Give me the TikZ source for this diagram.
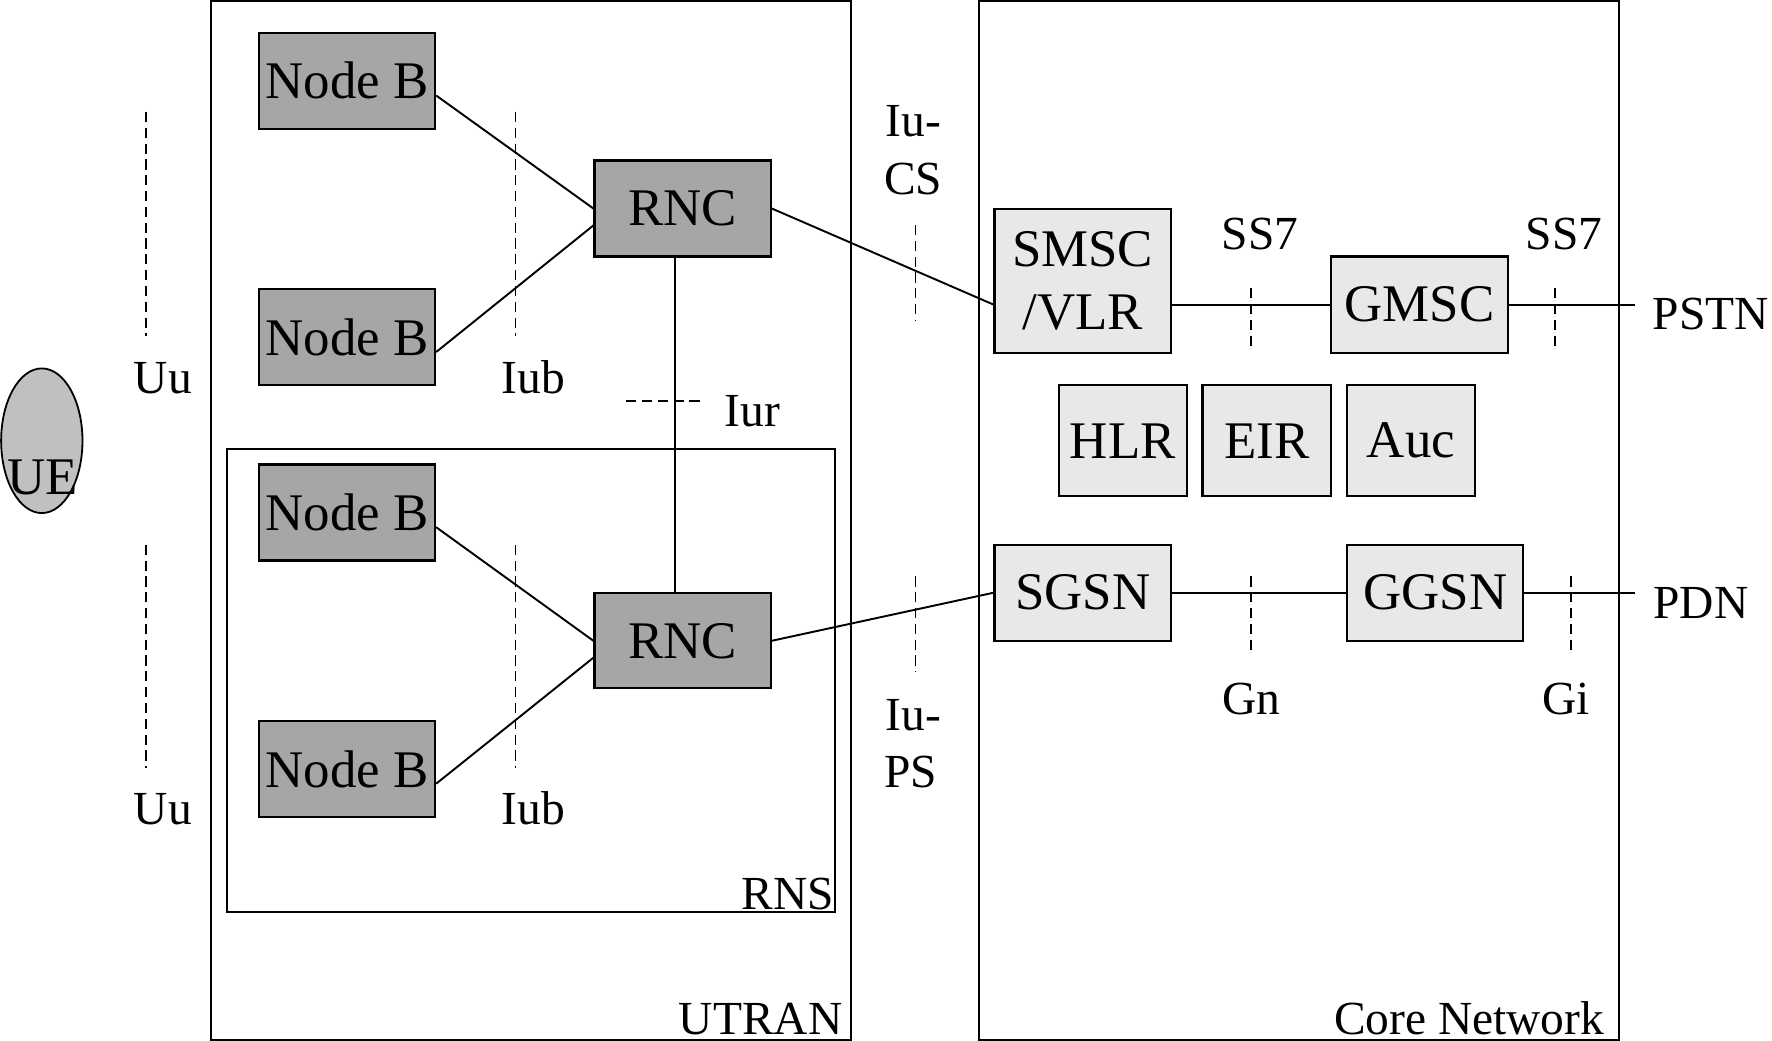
\documentclass[tikz,border=0pt]{standalone}
\usepackage{fontspec}
\setmainfont{Liberation Serif}
\usetikzlibrary{shapes.geometric}
\definecolor{darkbox}{HTML}{A6A6A6}
\definecolor{lightbox}{HTML}{E8E8E8}
\definecolor{uefill}{HTML}{C0C0C0}
\newcommand{\boxfont}{\fontsize{46.8}{56}\selectfont}
\newcommand{\lblfont}{\fontsize{42}{51}\selectfont}
\tikzset{
  nodebox/.style={draw, line width=1.9pt, inner sep=0pt, minimum width=156pt, minimum height=85pt, font=\boxfont, align=center},
  darkbox/.style={nodebox, fill=darkbox},
  lightbox/.style={nodebox, fill=lightbox},
  lbl/.style={inner sep=0pt, anchor=base, font=\lblfont, align=left},
  iface/.style={line width=1.3pt, dash pattern=on 9pt off 5pt},
  link/.style={line width=1.7pt},
  frame/.style={draw, line width=1.8pt}
}
\begin{document}
\begin{tikzpicture}[x=1pt,y=-1pt]
\useasboundingbox (0,0) rectangle (1568,921);
% frames
\draw[frame] (187,1) rectangle (753,920);
\draw[frame] (866,1) rectangle (1433,920);
\draw[frame] (201,397) rectangle (739,807);
% UE
\node[ellipse, draw, line width=1.6pt, fill=uefill, minimum width=72pt, minimum height=128pt, inner sep=0pt] (ue) at (37,390) {};
\node[lbl, font=\boxfont] (uetext) at (38,438) {UE};
% Node Bs and RNCs
\node[darkbox] (nb1) at (307,71.5) {Node B};
\node[darkbox] (nb2) at (307,298.5) {Node B};
\node[darkbox] (nb3) at (307,453.5) {Node B};
\node[darkbox] (nb4) at (307,680.5) {Node B};
\node[darkbox] (rnc1) at (604,184.5) {RNC};
\node[darkbox, minimum height=84pt] (rnc2) at (604,567) {RNC};
% core network
\node[lightbox, minimum height=127pt] (smsc) at (958,248.5) {SMSC\\/VLR};
\node[lightbox] (gmsc) at (1256,269.5) {GMSC};
\node[lightbox, minimum width=113pt, minimum height=98pt] (hlr) at (993.5,390) {HLR};
\node[lightbox, minimum width=114pt, minimum height=98pt] (eir) at (1121,390) {EIR};
\node[lightbox, minimum width=113pt, minimum height=98pt] (auc) at (1248.5,390) {Auc};
\node[lightbox] (sgsn) at (958,524.5) {SGSN};
\node[lightbox] (ggsn) at (1270,524.5) {GGSN};
\coordinate (pstnend) at (1447,269.5);
\coordinate (pdnend) at (1447,524.5);
% connectors
\draw[link] ([yshift=-13pt]nb1.east) -- (rnc1.west);
\draw[link] ([yshift=-13pt]nb2.east) -- ([yshift=-15pt]rnc1.west);
\draw[link] ([yshift=-13pt]nb3.east) -- (rnc2.west);
\draw[link] ([yshift=-13pt]nb4.east) -- ([yshift=-15pt]rnc2.west);
\draw[link] ([xshift=-7pt]rnc1.south) -- ([xshift=-7pt]rnc2.north);
\draw[link] (rnc1.east) -- (smsc.west |- gmsc.west);
\draw[link] (smsc.east |- gmsc.west) -- (gmsc.west);
\draw[link] (gmsc.east) -- (pstnend);
\draw[link] (rnc2.east) -- (sgsn.west);
\draw[link] (sgsn.east) -- (ggsn.west);
\draw[link] (ggsn.east) -- (pdnend);
% interface markers
\draw[iface] (129,99) -- (129,297);
\draw[iface] (129,482) -- (129,680);
\draw[iface] (456,99) -- (456,297);
\draw[iface] (456,482) -- (456,680);
\draw[iface] (554,355) -- (622,355);
\draw[iface] (810,199) -- (810,284);
\draw[iface] (810,510) -- (810,595);
\draw[iface] (1107,255) -- (1107,306);
\draw[iface] (1376,255) -- (1376,306);
\draw[iface] (1107,510) -- (1107,577);
\draw[iface] (1390,510) -- (1390,577);
% labels
\node[lbl] (uu1) at (144,348) {Uu};
\node[lbl] (uu2) at (144,730) {Uu};
\node[lbl] (iub1) at (472,348) {Iub};
\node[lbl] (iub2) at (472,730) {Iub};
\node[lbl] (iur) at (666,377) {Iur};
\node[lbl] (iucs1) at (808,121) {Iu-};
\node[lbl] (iucs2) at (808,172) {CS};
\node[lbl] (iups1) at (808,646) {Iu-};
\node[lbl] (iups2) at (806,697) {PS};
\node[lbl] (ss71) at (1115,221) {SS7};
\node[lbl] (ss72) at (1384,221) {SS7};
\node[lbl] (pstn) at (1514,292) {PSTN};
\node[lbl] (pdn) at (1505,547) {PDN};
\node[lbl] (gn) at (1107,632) {Gn};
\node[lbl] (gi) at (1386,632) {Gi};
\node[lbl] (rns) at (697,805) {RNS};
\node[lbl] (utran) at (673,915) {UTRAN};
\node[lbl] (core) at (1300,915) {Core Network};
\end{tikzpicture}
\end{document}
